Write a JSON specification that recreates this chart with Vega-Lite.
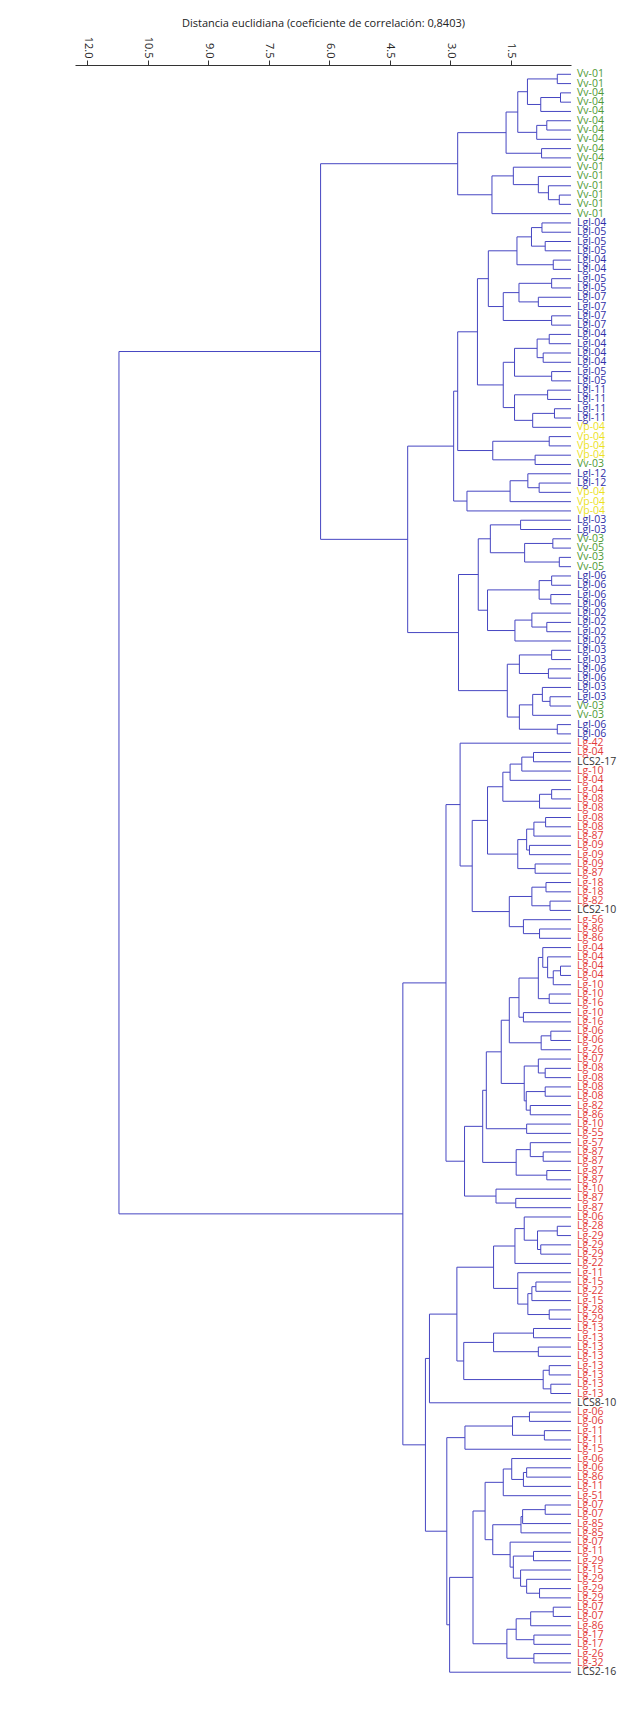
{
"$schema": "https://vega.github.io/schema/vega-lite/v6.json",
"width": 496,
"height": 1616.5,
"autosize": "none",
"padding": {"left": 75, "top": 65, "right": 62, "bottom": 52},
"background": "white",
"config": {"view": {"stroke": null}},
"datasets": {
"nodes": [
{"d":0.34,"ya":1,"yb":2,"da":0,"db":0},
{"d":0.26,"ya":3,"yb":4,"da":0,"db":0},
{"d":0.75,"ya":3.5,"yb":5,"da":0.26,"db":0},
{"d":1.08,"ya":1.5,"yb":4.25,"da":0.34,"db":0.75},
{"d":0.60,"ya":6,"yb":7,"da":0,"db":0},
{"d":0.85,"ya":6.5,"yb":8,"da":0.60,"db":0},
{"d":1.32,"ya":2.875,"yb":7.25,"da":1.08,"db":0.85},
{"d":0.73,"ya":9,"yb":10,"da":0,"db":0},
{"d":1.61,"ya":5.0625,"yb":9.5,"da":1.32,"db":0.73},
{"d":0.29,"ya":14,"yb":15,"da":0,"db":0},
{"d":0.56,"ya":13,"yb":14.5,"da":0,"db":0.29},
{"d":0.81,"ya":12,"yb":13.75,"da":0,"db":0.56},
{"d":1.43,"ya":11,"yb":12.875,"da":0,"db":0.81},
{"d":1.96,"ya":11.9375,"yb":16,"da":1.43,"db":0},
{"d":2.81,"ya":7.28125,"yb":13.96875,"da":1.61,"db":1.96},
{"d":0.72,"ya":17,"yb":18,"da":0,"db":0},
{"d":0.64,"ya":19,"yb":20,"da":0,"db":0},
{"d":0.98,"ya":17.5,"yb":19.5,"da":0.72,"db":0.64},
{"d":0.44,"ya":21,"yb":22,"da":0,"db":0},
{"d":1.34,"ya":18.5,"yb":21.5,"da":0.98,"db":0.44},
{"d":0.48,"ya":23,"yb":24,"da":0,"db":0},
{"d":0.81,"ya":25,"yb":26,"da":0,"db":0},
{"d":1.29,"ya":23.5,"yb":25.5,"da":0.48,"db":0.81},
{"d":0.48,"ya":27,"yb":28,"da":0,"db":0},
{"d":1.68,"ya":24.5,"yb":27.5,"da":1.29,"db":0.48},
{"d":2.05,"ya":20,"yb":26,"da":1.34,"db":1.68},
{"d":0.54,"ya":29,"yb":30,"da":0,"db":0},
{"d":0.69,"ya":31,"yb":32,"da":0,"db":0},
{"d":0.84,"ya":29.5,"yb":31.5,"da":0.54,"db":0.69},
{"d":0.48,"ya":33,"yb":34,"da":0,"db":0},
{"d":1.40,"ya":30.5,"yb":33.5,"da":0.84,"db":0.48},
{"d":0.58,"ya":35,"yb":36,"da":0,"db":0},
{"d":0.41,"ya":37,"yb":38,"da":0,"db":0},
{"d":0.95,"ya":37.5,"yb":39,"da":0.41,"db":0},
{"d":1.40,"ya":35.5,"yb":38.25,"da":0.58,"db":0.95},
{"d":1.68,"ya":32,"yb":36.875,"da":1.40,"db":1.40},
{"d":2.32,"ya":23,"yb":34.4375,"da":2.05,"db":1.68},
{"d":0.54,"ya":40,"yb":41,"da":0,"db":0},
{"d":0.89,"ya":42,"yb":43,"da":0,"db":0},
{"d":1.94,"ya":40.5,"yb":42.5,"da":0.54,"db":0.89},
{"d":2.81,"ya":28.71875,"yb":41.5,"da":2.32,"db":1.94},
{"d":0.79,"ya":45,"yb":46,"da":0,"db":0},
{"d":1.07,"ya":44,"yb":45.5,"da":0,"db":0.79},
{"d":1.51,"ya":44.75,"yb":47,"da":1.07,"db":0},
{"d":2.58,"ya":45.875,"yb":48,"da":1.51,"db":0},
{"d":2.91,"ya":35.109,"yb":46.9375,"da":2.81,"db":2.58},
{"d":1.25,"ya":49,"yb":50,"da":0,"db":0},
{"d":0.45,"ya":51,"yb":52,"da":0,"db":0},
{"d":0.29,"ya":53,"yb":54,"da":0,"db":0},
{"d":1.15,"ya":51.5,"yb":53.5,"da":0.45,"db":0.29},
{"d":2.00,"ya":49.5,"yb":52.5,"da":1.25,"db":1.15},
{"d":0.48,"ya":55,"yb":56,"da":0,"db":0},
{"d":0.50,"ya":57,"yb":58,"da":0,"db":0},
{"d":0.79,"ya":55.5,"yb":57.5,"da":0.48,"db":0.50},
{"d":0.60,"ya":60,"yb":61,"da":0,"db":0},
{"d":0.97,"ya":59,"yb":60.5,"da":0,"db":0.60},
{"d":1.39,"ya":59.75,"yb":62,"da":0.97,"db":0},
{"d":2.07,"ya":56.5,"yb":60.875,"da":0.79,"db":1.39},
{"d":2.30,"ya":51,"yb":58.6875,"da":2.00,"db":2.07},
{"d":0.48,"ya":63,"yb":64,"da":0,"db":0},
{"d":0.56,"ya":65,"yb":66,"da":0,"db":0},
{"d":1.28,"ya":63.5,"yb":65.5,"da":0.48,"db":0.56},
{"d":0.52,"ya":68,"yb":69,"da":0,"db":0},
{"d":0.71,"ya":67,"yb":68.5,"da":0,"db":0.52},
{"d":0.95,"ya":67.75,"yb":70,"da":0.71,"db":0},
{"d":0.34,"ya":71,"yb":72,"da":0,"db":0},
{"d":1.28,"ya":68.875,"yb":71.5,"da":0.95,"db":0.34},
{"d":1.58,"ya":64.5,"yb":70.1875,"da":1.28,"db":1.28},
{"d":2.79,"ya":54.84375,"yb":67.34375,"da":2.30,"db":1.58},
{"d":4.05,"ya":41.023,"yb":61.094,"da":2.91,"db":2.79},
{"d":6.21,"ya":10.625,"yb":51.0585,"da":2.81,"db":4.05},
{"d":0.93,"ya":74,"yb":75,"da":0,"db":0},
{"d":1.22,"ya":74.5,"yb":76,"da":0.93,"db":0},
{"d":1.51,"ya":75.25,"yb":77,"da":1.22,"db":0},
{"d":0.48,"ya":78,"yb":79,"da":0,"db":0},
{"d":0.78,"ya":78.5,"yb":80,"da":0.48,"db":0},
{"d":1.69,"ya":76.125,"yb":79.25,"da":1.51,"db":0.78},
{"d":0.63,"ya":81,"yb":82,"da":0,"db":0},
{"d":0.92,"ya":81.5,"yb":83,"da":0.63,"db":0},
{"d":1.03,"ya":84,"yb":85,"da":0,"db":0},
{"d":1.10,"ya":82.25,"yb":84.5,"da":0.92,"db":1.03},
{"d":0.89,"ya":86,"yb":87,"da":0,"db":0},
{"d":1.32,"ya":83.375,"yb":86.5,"da":1.10,"db":0.89},
{"d":2.07,"ya":77.6875,"yb":84.9375,"da":1.69,"db":1.32},
{"d":0.62,"ya":88,"yb":89,"da":0,"db":0},
{"d":0.52,"ya":90,"yb":91,"da":0,"db":0},
{"d":0.97,"ya":88.5,"yb":90.5,"da":0.62,"db":0.52},
{"d":0.78,"ya":93,"yb":94,"da":0,"db":0},
{"d":1.18,"ya":92,"yb":93.5,"da":0,"db":0.78},
{"d":1.53,"ya":89.5,"yb":92.75,"da":0.97,"db":1.18},
{"d":2.45,"ya":81.3125,"yb":91.125,"da":2.07,"db":1.53},
{"d":2.75,"ya":73,"yb":86.21875,"da":0,"db":2.45},
{"d":0.26,"ya":97,"yb":98,"da":0,"db":0},
{"d":0.44,"ya":97.5,"yb":99,"da":0.26,"db":0},
{"d":0.58,"ya":96,"yb":98.25,"da":0,"db":0.44},
{"d":0.70,"ya":95,"yb":97.125,"da":0,"db":0.58},
{"d":0.54,"ya":100,"yb":101,"da":0,"db":0},
{"d":0.81,"ya":96.0625,"yb":100.5,"da":0.70,"db":0.54},
{"d":1.18,"ya":102,"yb":103,"da":0,"db":0},
{"d":1.29,"ya":98.28125,"yb":102.5,"da":0.81,"db":1.18},
{"d":0.50,"ya":104,"yb":105,"da":0,"db":0},
{"d":0.74,"ya":104.5,"yb":106,"da":0.50,"db":0},
{"d":1.53,"ya":100.390625,"yb":105.25,"da":1.29,"db":0.74},
{"d":0.64,"ya":108,"yb":109,"da":0,"db":0},
{"d":0.81,"ya":107,"yb":108.5,"da":0,"db":0.64},
{"d":0.64,"ya":110,"yb":111,"da":0,"db":0},
{"d":1.01,"ya":112,"yb":113,"da":0,"db":0},
{"d":1.11,"ya":110.5,"yb":112.5,"da":0.64,"db":1.01},
{"d":1.16,"ya":107.75,"yb":111.5,"da":0.81,"db":1.11},
{"d":1.73,"ya":102.8203,"yb":109.625,"da":1.53,"db":1.16},
{"d":1.10,"ya":114,"yb":115,"da":0,"db":0},
{"d":2.10,"ya":106.2227,"yb":114.5,"da":1.73,"db":1.10},
{"d":0.69,"ya":117,"yb":118,"da":0,"db":0},
{"d":1.01,"ya":116,"yb":117.5,"da":0,"db":0.69},
{"d":0.60,"ya":119,"yb":120,"da":0,"db":0},
{"d":1.36,"ya":116.75,"yb":119.5,"da":1.01,"db":0.60},
{"d":2.19,"ya":110.3613,"yb":118.125,"da":2.10,"db":1.36},
{"d":1.37,"ya":122,"yb":123,"da":0,"db":0},
{"d":1.86,"ya":121,"yb":122.5,"da":0,"db":1.37},
{"d":2.64,"ya":114.2432,"yb":121.75,"da":2.19,"db":1.86},
{"d":3.10,"ya":79.609,"yb":117.9966,"da":2.75,"db":2.64},
{"d":0.34,"ya":125,"yb":126,"da":0,"db":0},
{"d":0.75,"ya":127,"yb":128,"da":0,"db":0},
{"d":0.83,"ya":125.5,"yb":127.5,"da":0.34,"db":0.75},
{"d":1.16,"ya":124,"yb":126.5,"da":0,"db":0.83},
{"d":1.39,"ya":125.25,"yb":129,"da":1.16,"db":0},
{"d":0.87,"ya":131,"yb":132,"da":0,"db":0},
{"d":0.97,"ya":131.5,"yb":133,"da":0.87,"db":0},
{"d":0.54,"ya":134,"yb":135,"da":0,"db":0},
{"d":1.07,"ya":132.25,"yb":134.5,"da":0.97,"db":0.54},
{"d":1.32,"ya":130,"yb":133.375,"da":0,"db":1.07},
{"d":1.92,"ya":127.125,"yb":131.6875,"da":1.39,"db":1.32},
{"d":0.93,"ya":136,"yb":137,"da":0,"db":0},
{"d":0.81,"ya":138,"yb":139,"da":0,"db":0},
{"d":1.92,"ya":136.5,"yb":138.5,"da":0.93,"db":0.81},
{"d":0.54,"ya":140,"yb":141,"da":0,"db":0},
{"d":0.50,"ya":142,"yb":143,"da":0,"db":0},
{"d":0.69,"ya":140.5,"yb":142.5,"da":0.54,"db":0.50},
{"d":2.66,"ya":137.5,"yb":141.5,"da":1.92,"db":0.69},
{"d":2.83,"ya":129.40625,"yb":139.5,"da":1.92,"db":2.66},
{"d":3.51,"ya":134.453,"yb":144,"da":2.83,"db":0},
{"d":1.03,"ya":145,"yb":146,"da":0,"db":0},
{"d":0.66,"ya":147,"yb":148,"da":0,"db":0},
{"d":1.45,"ya":145.5,"yb":147.5,"da":1.03,"db":0.66},
{"d":2.63,"ya":146.5,"yb":149,"da":1.45,"db":0},
{"d":1.10,"ya":151,"yb":152,"da":0,"db":0},
{"d":1.18,"ya":151.5,"yb":153,"da":1.10,"db":0},
{"d":1.47,"ya":150,"yb":152.25,"da":0,"db":1.18},
{"d":1.68,"ya":151.125,"yb":154,"da":1.47,"db":0},
{"d":0.64,"ya":155,"yb":156,"da":0,"db":0},
{"d":1.20,"ya":155.5,"yb":157,"da":0.64,"db":0},
{"d":1.24,"ya":156.25,"yb":158,"da":1.20,"db":0},
{"d":0.93,"ya":160,"yb":161,"da":0,"db":0},
{"d":0.78,"ya":164,"yb":165,"da":0,"db":0},
{"d":1.10,"ya":163,"yb":164.5,"da":0,"db":0.78},
{"d":1.25,"ya":162,"yb":163.75,"da":0,"db":1.10},
{"d":1.43,"ya":160.5,"yb":162.875,"da":0.93,"db":1.25},
{"d":1.51,"ya":159,"yb":161.6875,"da":0,"db":1.43},
{"d":1.94,"ya":157.125,"yb":160.34375,"da":1.24,"db":1.51},
{"d":2.13,"ya":152.5625,"yb":158.734,"da":1.68,"db":1.94},
{"d":0.44,"ya":166,"yb":167,"da":0,"db":0},
{"d":1.00,"ya":166.5,"yb":168,"da":0.44,"db":0},
{"d":0.92,"ya":169,"yb":170,"da":0,"db":0},
{"d":1.36,"ya":167.25,"yb":169.5,"da":1.00,"db":0.92},
{"d":0.92,"ya":171,"yb":172,"da":0,"db":0},
{"d":1.59,"ya":168.375,"yb":171.5,"da":1.36,"db":0.92},
{"d":2.43,"ya":155.648,"yb":169.9375,"da":2.13,"db":1.59},
{"d":3.01,"ya":162.793,"yb":173,"da":2.43,"db":0},
{"d":3.08,"ya":147.75,"yb":167.896,"da":2.63,"db":3.01},
{"d":3.61,"ya":139.2266,"yb":157.823,"da":3.51,"db":3.08},
{"d":4.17,"ya":98.803,"yb":148.525,"da":3.10,"db":3.61},
{"d":11.21,"ya":30.842,"yb":123.664,"da":6.21,"db":4.17}
],
"leaves": [
{"i":1,"label":"Vv-01","grp":"G"},{"i":2,"label":"Vv-01","grp":"G"},{"i":3,"label":"Vv-04","grp":"G"},{"i":4,"label":"Vv-04","grp":"G"},{"i":5,"label":"Vv-04","grp":"G"},{"i":6,"label":"Vv-04","grp":"G"},{"i":7,"label":"Vv-04","grp":"G"},{"i":8,"label":"Vv-04","grp":"G"},{"i":9,"label":"Vv-04","grp":"G"},{"i":10,"label":"Vv-04","grp":"G"},
{"i":11,"label":"Vv-01","grp":"G"},{"i":12,"label":"Vv-01","grp":"G"},{"i":13,"label":"Vv-01","grp":"G"},{"i":14,"label":"Vv-01","grp":"G"},{"i":15,"label":"Vv-01","grp":"G"},{"i":16,"label":"Vv-01","grp":"G"},
{"i":17,"label":"Lgl-04","grp":"B"},{"i":18,"label":"Lgl-05","grp":"B"},{"i":19,"label":"Lgl-05","grp":"B"},{"i":20,"label":"Lgl-05","grp":"B"},{"i":21,"label":"Lgl-04","grp":"B"},{"i":22,"label":"Lgl-04","grp":"B"},{"i":23,"label":"Lgl-05","grp":"B"},{"i":24,"label":"Lgl-05","grp":"B"},{"i":25,"label":"Lgl-07","grp":"B"},{"i":26,"label":"Lgl-07","grp":"B"},{"i":27,"label":"Lgl-07","grp":"B"},{"i":28,"label":"Lgl-07","grp":"B"},
{"i":29,"label":"Lgl-04","grp":"B"},{"i":30,"label":"Lgl-04","grp":"B"},{"i":31,"label":"Lgl-04","grp":"B"},{"i":32,"label":"Lgl-04","grp":"B"},{"i":33,"label":"Lgl-05","grp":"B"},{"i":34,"label":"Lgl-05","grp":"B"},{"i":35,"label":"Lgl-11","grp":"B"},{"i":36,"label":"Lgl-11","grp":"B"},{"i":37,"label":"Lgl-11","grp":"B"},{"i":38,"label":"Lgl-11","grp":"B"},
{"i":39,"label":"Vp-04","grp":"Y"},{"i":40,"label":"Vp-04","grp":"Y"},{"i":41,"label":"Vp-04","grp":"Y"},{"i":42,"label":"Vp-04","grp":"Y"},{"i":43,"label":"Vv-03","grp":"G"},{"i":44,"label":"Lgl-12","grp":"B"},{"i":45,"label":"Lgl-12","grp":"B"},{"i":46,"label":"Vp-04","grp":"Y"},{"i":47,"label":"Vp-04","grp":"Y"},{"i":48,"label":"Vp-04","grp":"Y"},
{"i":49,"label":"Lgl-03","grp":"B"},{"i":50,"label":"Lgl-03","grp":"B"},{"i":51,"label":"Vv-03","grp":"G"},{"i":52,"label":"Vv-05","grp":"G"},{"i":53,"label":"Vv-03","grp":"G"},{"i":54,"label":"Vv-05","grp":"G"},{"i":55,"label":"Lgl-06","grp":"B"},{"i":56,"label":"Lgl-06","grp":"B"},{"i":57,"label":"Lgl-06","grp":"B"},{"i":58,"label":"Lgl-06","grp":"B"},
{"i":59,"label":"Lgl-02","grp":"B"},{"i":60,"label":"Lgl-02","grp":"B"},{"i":61,"label":"Lgl-02","grp":"B"},{"i":62,"label":"Lgl-02","grp":"B"},{"i":63,"label":"Lgl-03","grp":"B"},{"i":64,"label":"Lgl-03","grp":"B"},{"i":65,"label":"Lgl-06","grp":"B"},{"i":66,"label":"Lgl-06","grp":"B"},{"i":67,"label":"Lgl-03","grp":"B"},{"i":68,"label":"Lgl-03","grp":"B"},
{"i":69,"label":"Vv-03","grp":"G"},{"i":70,"label":"Vv-03","grp":"G"},{"i":71,"label":"Lgl-06","grp":"B"},{"i":72,"label":"Lgl-06","grp":"B"},
{"i":73,"label":"Lg-42","grp":"R"},{"i":74,"label":"Lg-04","grp":"R"},{"i":75,"label":"LCS2-17","grp":"K"},{"i":76,"label":"Lg-10","grp":"R"},{"i":77,"label":"Lg-04","grp":"R"},{"i":78,"label":"Lg-04","grp":"R"},{"i":79,"label":"Lg-08","grp":"R"},{"i":80,"label":"Lg-08","grp":"R"},
{"i":81,"label":"Lg-08","grp":"R"},{"i":82,"label":"Lg-08","grp":"R"},{"i":83,"label":"Lg-87","grp":"R"},{"i":84,"label":"Lg-09","grp":"R"},{"i":85,"label":"Lg-09","grp":"R"},{"i":86,"label":"Lg-09","grp":"R"},{"i":87,"label":"Lg-87","grp":"R"},{"i":88,"label":"Lg-18","grp":"R"},{"i":89,"label":"Lg-18","grp":"R"},{"i":90,"label":"Lg-82","grp":"R"},
{"i":91,"label":"LCS2-10","grp":"K"},{"i":92,"label":"Lg-56","grp":"R"},{"i":93,"label":"Lg-86","grp":"R"},{"i":94,"label":"Lg-86","grp":"R"},{"i":95,"label":"Lg-04","grp":"R"},{"i":96,"label":"Lg-04","grp":"R"},{"i":97,"label":"Lg-04","grp":"R"},{"i":98,"label":"Lg-04","grp":"R"},{"i":99,"label":"Lg-10","grp":"R"},{"i":100,"label":"Lg-10","grp":"R"},
{"i":101,"label":"Lg-16","grp":"R"},{"i":102,"label":"Lg-10","grp":"R"},{"i":103,"label":"Lg-16","grp":"R"},{"i":104,"label":"Lg-06","grp":"R"},{"i":105,"label":"Lg-06","grp":"R"},{"i":106,"label":"Lg-26","grp":"R"},{"i":107,"label":"Lg-07","grp":"R"},{"i":108,"label":"Lg-08","grp":"R"},{"i":109,"label":"Lg-08","grp":"R"},{"i":110,"label":"Lg-08","grp":"R"},
{"i":111,"label":"Lg-08","grp":"R"},{"i":112,"label":"Lg-82","grp":"R"},{"i":113,"label":"Lg-86","grp":"R"},{"i":114,"label":"Lg-10","grp":"R"},{"i":115,"label":"Lg-55","grp":"R"},{"i":116,"label":"Lg-57","grp":"R"},{"i":117,"label":"Lg-87","grp":"R"},{"i":118,"label":"Lg-87","grp":"R"},{"i":119,"label":"Lg-87","grp":"R"},{"i":120,"label":"Lg-87","grp":"R"},
{"i":121,"label":"Lg-10","grp":"R"},{"i":122,"label":"Lg-87","grp":"R"},{"i":123,"label":"Lg-87","grp":"R"},{"i":124,"label":"Lg-06","grp":"R"},{"i":125,"label":"Lg-28","grp":"R"},{"i":126,"label":"Lg-29","grp":"R"},{"i":127,"label":"Lg-29","grp":"R"},{"i":128,"label":"Lg-29","grp":"R"},{"i":129,"label":"Lg-22","grp":"R"},{"i":130,"label":"Lg-11","grp":"R"},
{"i":131,"label":"Lg-15","grp":"R"},{"i":132,"label":"Lg-22","grp":"R"},{"i":133,"label":"Lg-15","grp":"R"},{"i":134,"label":"Lg-28","grp":"R"},{"i":135,"label":"Lg-29","grp":"R"},{"i":136,"label":"Lg-13","grp":"R"},{"i":137,"label":"Lg-13","grp":"R"},{"i":138,"label":"Lg-13","grp":"R"},{"i":139,"label":"Lg-13","grp":"R"},{"i":140,"label":"Lg-13","grp":"R"},
{"i":141,"label":"Lg-13","grp":"R"},{"i":142,"label":"Lg-13","grp":"R"},{"i":143,"label":"Lg-13","grp":"R"},{"i":144,"label":"LCS8-10","grp":"K"},{"i":145,"label":"Lg-06","grp":"R"},{"i":146,"label":"Lg-06","grp":"R"},{"i":147,"label":"Lg-11","grp":"R"},{"i":148,"label":"Lg-11","grp":"R"},{"i":149,"label":"Lg-15","grp":"R"},{"i":150,"label":"Lg-06","grp":"R"},
{"i":151,"label":"Lg-06","grp":"R"},{"i":152,"label":"Lg-86","grp":"R"},{"i":153,"label":"Lg-11","grp":"R"},{"i":154,"label":"Lg-51","grp":"R"},{"i":155,"label":"Lg-07","grp":"R"},{"i":156,"label":"Lg-07","grp":"R"},{"i":157,"label":"Lg-85","grp":"R"},{"i":158,"label":"Lg-85","grp":"R"},{"i":159,"label":"Lg-07","grp":"R"},{"i":160,"label":"Lg-11","grp":"R"},
{"i":161,"label":"Lg-29","grp":"R"},{"i":162,"label":"Lg-15","grp":"R"},{"i":163,"label":"Lg-29","grp":"R"},{"i":164,"label":"Lg-29","grp":"R"},{"i":165,"label":"Lg-29","grp":"R"},{"i":166,"label":"Lg-07","grp":"R"},{"i":167,"label":"Lg-07","grp":"R"},{"i":168,"label":"Lg-86","grp":"R"},{"i":169,"label":"Lg-17","grp":"R"},{"i":170,"label":"Lg-17","grp":"R"},
{"i":171,"label":"Lg-26","grp":"R"},{"i":172,"label":"Lg-32","grp":"R"},{"i":173,"label":"LCS2-16","grp":"K"}
]
},
"layer": [
{
"data": {"name": "nodes"},
"mark": {"type": "rule", "color": "#4646c2", "strokeWidth": 1},
"encoding": {
"x": {"field": "d", "type": "quantitative",
"scale": {"domain": [0, 12.3], "reverse": true, "nice": false, "zero": false},
"axis": {"orient": "top", "values": [1.5, 3, 4.5, 6, 7.5, 9, 10.5, 12], "format": ".1f",
"labelAngle": 90, "labelAlign": "right", "labelBaseline": "middle", "labelFont": "Open Sans", "labelFontSize": 11, "labelColor": "#222",
"labelPadding": 2, "tickSize": 5, "tickColor": "#333", "domainColor": "#333", "grid": false,
"title": "Distancia euclidiana (coeficiente de correlación: 0,8403)", "titleFont": "Open Sans", "titleFontSize": 11, "titleFontWeight": "normal", "titleColor": "#222", "titlePadding": 8}},
"y": {"field": "ya", "type": "quantitative", "scale": {"domain": [0, 174], "reverse": true, "nice": false, "zero": false}, "axis": null},
"y2": {"field": "yb"}
}
},
{
"data": {"name": "nodes"},
"mark": {"type": "rule", "color": "#4646c2", "strokeWidth": 1},
"encoding": {
"x": {"field": "da", "type": "quantitative"},
"x2": {"field": "d"},
"y": {"field": "ya", "type": "quantitative"}
}
},
{
"data": {"name": "nodes"},
"mark": {"type": "rule", "color": "#4646c2", "strokeWidth": 1},
"encoding": {
"x": {"field": "db", "type": "quantitative"},
"x2": {"field": "d"},
"y": {"field": "yb", "type": "quantitative"}
}
},
{
"data": {"name": "leaves"},
"mark": {"type": "text", "align": "left", "baseline": "middle", "dx": 6, "font": "Open Sans", "fontSize": 10.5},
"encoding": {
"x": {"datum": 0, "type": "quantitative"},
"y": {"field": "i", "type": "quantitative"},
"text": {"field": "label"},
"color": {"field": "grp", "type": "nominal",
"scale": {"domain": ["G", "B", "Y", "R", "K"], "range": ["#4f9a34", "#2f2fa8", "#ece21e", "#e33b3b", "#333333"]},
"legend": null}
}
}
]
}
